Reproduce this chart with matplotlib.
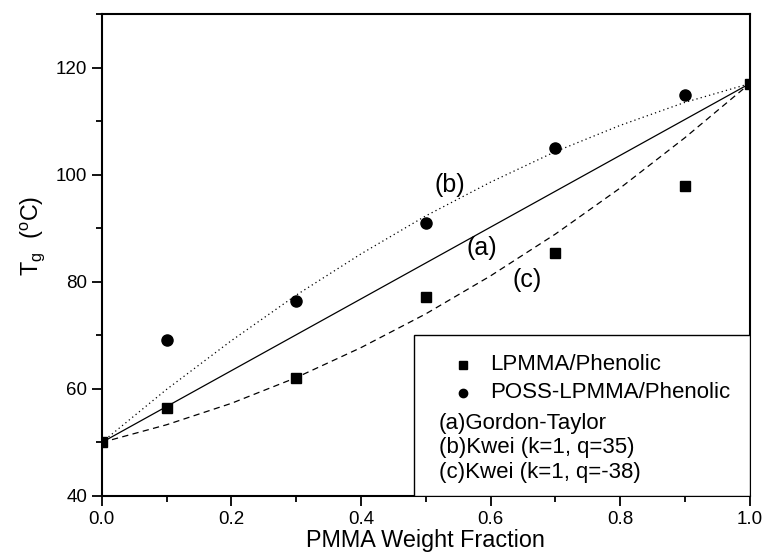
import matplotlib
matplotlib.use('Agg')
import matplotlib.pyplot as plt
from matplotlib.patches import Rectangle
from matplotlib.ticker import MultipleLocator

plt.rcParams['font.family'] = ['Liberation Sans', 'DejaVu Sans']
plt.rcParams['mathtext.default'] = 'regular'

# measured points
w_lp = [0.0, 0.1, 0.3, 0.5, 0.7, 0.9, 1.0]
tg_lp = [50.0, 56.4, 62.1, 77.2, 85.3, 97.8, 117.0]
w_poss = [0.1, 0.3, 0.5, 0.7, 0.9]
tg_poss = [69.2, 76.4, 90.9, 104.9, 114.9]

# model curves
w_fit = [0.0, 0.1, 0.2, 0.3, 0.4, 0.5, 0.6, 0.7, 0.8, 0.9, 1.0]
tg_gt = [50.0, 56.7, 63.4, 70.1, 76.8, 83.5, 90.2, 96.9, 103.6, 110.3, 117.0]
tg_kwei_b = [50.0, 59.9, 69.0, 77.5, 85.2, 92.3, 98.6, 104.3, 109.2, 113.5, 117.0]
tg_kwei_c = [50.0, 53.3, 57.3, 62.1, 67.7, 74.0, 81.1, 88.9, 97.5, 106.9, 117.0]

legend_markers = [('s', 'LPMMA/Phenolic'), ('o', 'POSS-LPMMA/Phenolic')]
legend_texts = ['(a)Gordon-Taylor', '(b)Kwei (k=1, q=35)', '(c)Kwei (k=1, q=-38)']


def main():
    fig = plt.figure(figsize=(7.65, 5.54), dpi=100)
    ax = fig.add_axes([0.133, 0.1047, 0.847, 0.870])

    ax.plot(w_fit, tg_gt, color='k', lw=0.9, ls='-')
    ax.plot(w_fit, tg_kwei_b, color='k', lw=0.9, ls=(0, (1, 2.5)))
    ax.plot(w_fit, tg_kwei_c, color='k', lw=0.9, ls=(0, (5, 3.5)))

    ax.plot(w_lp, tg_lp, 's', color='k', ms=7.5, zorder=3)
    ax.plot(w_poss, tg_poss, 'o', color='k', ms=8, zorder=3)

    ax.text(0.537, 98.0, '(b)', fontsize=18, ha='center', va='center')
    ax.text(0.587, 86.3, '(a)', fontsize=18, ha='center', va='center')
    ax.text(0.656, 80.3, '(c)', fontsize=18, ha='center', va='center')

    # legend box drawn by hand: the model entries have no line samples
    ax.add_patch(Rectangle((0.482, 0.0), 0.518, 0.334, transform=ax.transAxes,
                           facecolor='white', edgecolor='k', lw=1.0, zorder=4))
    rows = [0.272, 0.214]
    for (m, label), y in zip(legend_markers, rows):
        ax.plot([0.557], [y], m, color='k', ms=6, transform=ax.transAxes,
                zorder=5, clip_on=False)
        ax.text(0.599, y, label, fontsize=16, va='center', transform=ax.transAxes,
                zorder=5)
    for label, y in zip(legend_texts, [0.151, 0.0996, 0.048]):
        ax.text(0.520, y, label, fontsize=16, va='center', transform=ax.transAxes,
                zorder=5)

    ax.set_xlim(0, 1.0)
    ax.set_ylim(40, 130)
    ax.xaxis.set_major_locator(MultipleLocator(0.2))
    ax.xaxis.set_minor_locator(MultipleLocator(0.1))
    ax.yaxis.set_major_locator(MultipleLocator(20))
    ax.yaxis.set_minor_locator(MultipleLocator(10))
    ax.xaxis.set_major_formatter(plt.FormatStrFormatter('%.1f'))

    ax.tick_params(which='major', length=7, width=1.3, labelsize=13.5, direction='out')
    ax.tick_params(which='minor', length=4, width=1.3, direction='out')
    for s in ax.spines.values():
        s.set_linewidth(1.5)

    ax.set_xlabel('PMMA Weight Fraction', fontsize=16.8, labelpad=1)
    ax.set_ylabel('T$_g$  ($^o$C)', fontsize=16.8)
    ax.yaxis.set_label_coords(-0.085, 0.54)

    fig.savefig('out.png', dpi=100)


if __name__ == '__main__':
    main()
